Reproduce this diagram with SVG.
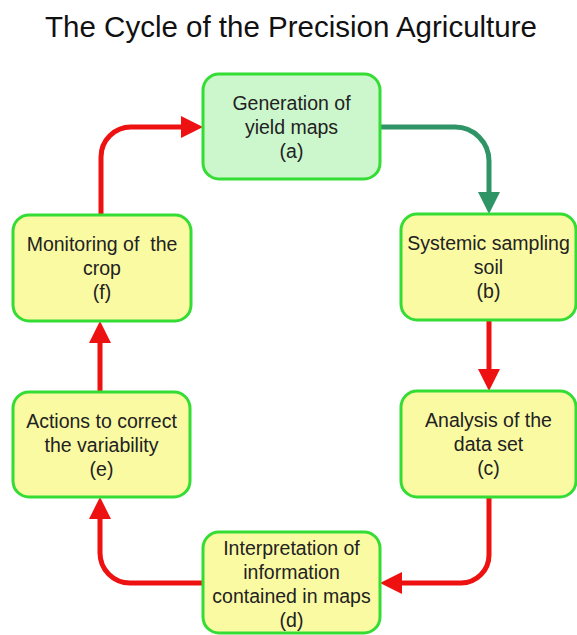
<svg xmlns="http://www.w3.org/2000/svg" width="577" height="635" viewBox="0 0 577 635">
<style>
.box{stroke:#33dd33;stroke-width:3}
.y{fill:#fafaa2}
.g{fill:#ccf6cc}
.t{font-family:"Liberation Sans",Arial,sans-serif;font-size:19.5px;fill:#222;text-anchor:middle}
.title{font-family:"Liberation Sans",Arial,sans-serif;font-size:29.5px;fill:#111;text-anchor:middle}
.r{fill:none;stroke:#ee1111;stroke-width:5}
.gr{fill:none;stroke:#2f9466;stroke-width:5}
</style>
<defs>
<marker id="ar" markerUnits="userSpaceOnUse" markerWidth="24" markerHeight="24" refX="8" refY="11" orient="auto"><path d="M0,0 L22,11 L0,22 z" fill="#ee1111"/></marker>
<marker id="ag" markerUnits="userSpaceOnUse" markerWidth="24" markerHeight="24" refX="8" refY="11" orient="auto"><path d="M0,0 L22,11 L0,22 z" fill="#2f9466"/></marker>
</defs>
<rect width="577" height="635" fill="#fff"/>
<text class="title" x="291" y="37">The Cycle of the Precision Agriculture</text>
<g id="connectors">
<path class="r" d="M101,215 V157 A30,30 0 0 1 131,127 H189" marker-end="url(#ar)"/>
<path class="gr" d="M380,127 H455 A34,34 0 0 1 489,161 V200" marker-end="url(#ag)"/>
<path class="r" d="M489,320 V377" marker-end="url(#ar)"/>
<path class="r" d="M489,497 V555 A28,28 0 0 1 461,583 H394" marker-end="url(#ar)"/>
<path class="r" d="M203,583 H130 A30,30 0 0 1 100,553 V511" marker-end="url(#ar)"/>
<path class="r" d="M100,392 V335" marker-end="url(#ar)"/>
</g>
<g id="node-a"><rect class="box g" x="203" y="74" width="177" height="105" rx="16"/>
<text class="t" x="291.5" y="110">Generation of</text><text class="t" x="291.5" y="134">yield maps</text><text class="t" x="291.5" y="158">(a)</text></g>
<g id="node-b"><rect class="box y" x="401" y="214" width="175" height="106" rx="16"/>
<text class="t" x="488.5" y="250">Systemic sampling</text><text class="t" x="488.5" y="274">soil</text><text class="t" x="488.5" y="298">(b)</text></g>
<g id="node-c"><rect class="box y" x="401" y="391" width="175" height="106" rx="16"/>
<text class="t" x="488.5" y="427">Analysis of the</text><text class="t" x="488.5" y="451">data set</text><text class="t" x="488.5" y="475">(c)</text></g>
<g id="node-d"><rect class="box y" x="203" y="532" width="177" height="101" rx="16"/>
<text class="t" x="291.5" y="555">Interpretation of</text><text class="t" x="291.5" y="579">information</text><text class="t" x="291.5" y="603">contained in maps</text><text class="t" x="291.5" y="627">(d)</text></g>
<g id="node-e"><rect class="box y" x="13" y="392" width="177" height="105" rx="16"/>
<text class="t" x="101.5" y="428">Actions to correct</text><text class="t" x="101.5" y="452">the variability</text><text class="t" x="101.5" y="476">(e)</text></g>
<g id="node-f"><rect class="box y" x="13" y="215" width="178" height="106" rx="16"/>
<text class="t" x="102" y="251" xml:space="preserve">Monitoring of  the</text><text class="t" x="102" y="275">crop</text><text class="t" x="102" y="299">(f)</text></g>
</svg>
